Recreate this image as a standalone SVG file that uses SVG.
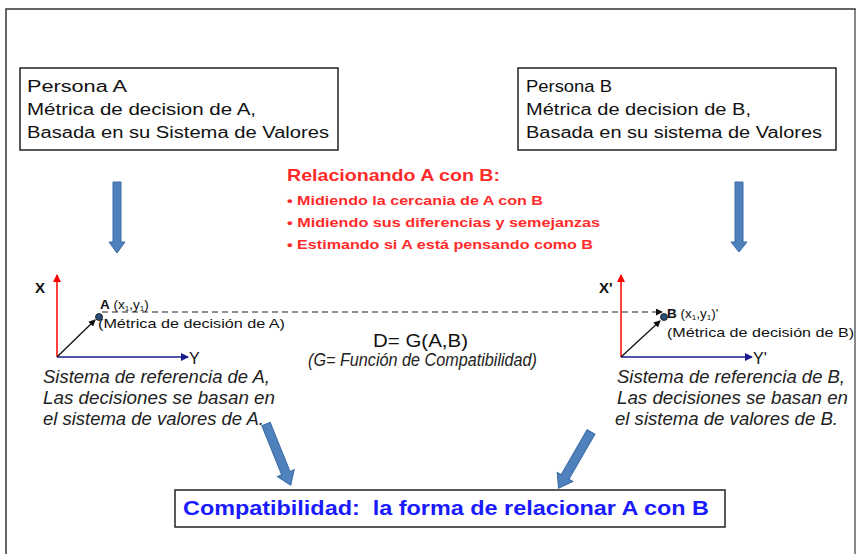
<svg xmlns="http://www.w3.org/2000/svg" width="857" height="554" viewBox="0 0 857 554">
<defs>
<style>
.box{fill:#fff;stroke:#222;stroke-width:1.5}
.t{font-family:"Liberation Sans",Arial,sans-serif;fill:#111}
.blk{font-size:16px}
.red{font-family:"Liberation Sans",Arial,sans-serif;font-weight:bold;fill:#ff2a2a}
.it{font-family:"Liberation Sans",Arial,sans-serif;font-style:italic;font-size:17.5px;fill:#222}
.bigarrow{fill:#4f81bd;stroke:#3a6aa5;stroke-width:1}
.xax{stroke:#ff0000;stroke-width:1.5;fill:none}
.yax{stroke:#1a1a8c;stroke-width:1.5;fill:none}
.vec{stroke:#111;stroke-width:1.3;fill:none}
</style>
<marker id="mr" markerWidth="8" markerHeight="8" refX="7" refY="4" orient="auto" markerUnits="userSpaceOnUse"><path d="M0,0 L8,4 L0,8 z" fill="#ff0000"/></marker>
<marker id="mb" markerWidth="8" markerHeight="8" refX="7" refY="4" orient="auto" markerUnits="userSpaceOnUse"><path d="M0,0 L8,4 L0,8 z" fill="#1a1a8c"/></marker>
<marker id="mk" markerWidth="7" markerHeight="7" refX="6" refY="3.5" orient="auto" markerUnits="userSpaceOnUse"><path d="M0,0 L7,3.5 L0,7 z" fill="#111"/></marker>
</defs>
<rect x="0" y="0" width="857" height="554" fill="#fff"/>
<path d="M6,560 L6,9 L855,9 L855,560" fill="none" stroke="#333" stroke-width="1.5"/>
<line x1="855" y1="10" x2="855" y2="560" stroke="#888" stroke-width="2"/>

<g id="personaA">
<rect class="box" x="20" y="68" width="318" height="82"/>
<text class="t blk" x="27" y="92" textLength="100" lengthAdjust="spacingAndGlyphs">Persona A</text>
<text class="t blk" x="27" y="115" textLength="229" lengthAdjust="spacingAndGlyphs">Métrica de decision de A,</text>
<text class="t blk" x="27" y="138" textLength="302" lengthAdjust="spacingAndGlyphs">Basada en su Sistema de Valores</text>
</g>

<g id="personaB">
<rect class="box" x="518" y="68" width="318" height="82"/>
<text class="t blk" x="526" y="92" textLength="86" lengthAdjust="spacingAndGlyphs">Persona B</text>
<text class="t blk" x="526" y="115" textLength="225" lengthAdjust="spacingAndGlyphs">Métrica de decision de B,</text>
<text class="t blk" x="526" y="138" textLength="296" lengthAdjust="spacingAndGlyphs">Basada en su sistema de Valores</text>
</g>

<g id="relacionando">
<text class="red" x="287" y="181" font-size="17" textLength="213" lengthAdjust="spacingAndGlyphs">Relacionando A con B:</text>
<text class="red" x="287" y="205" font-size="13" textLength="256" lengthAdjust="spacingAndGlyphs">• Midiendo la cercania de A con B</text>
<text class="red" x="287" y="227" font-size="13" textLength="313" lengthAdjust="spacingAndGlyphs">• Midiendo sus diferencias y semejanzas</text>
<text class="red" x="287" y="249" font-size="13" textLength="306" lengthAdjust="spacingAndGlyphs">• Estimando si A está pensando como B</text>
</g>

<g id="sistemaA">
<line class="xax" x1="57" y1="357" x2="57" y2="275" marker-end="url(#mr)"/>
<line class="yax" x1="57" y1="357" x2="188" y2="357" marker-end="url(#mb)"/>
<line class="vec" x1="57" y1="357" x2="95" y2="320" marker-end="url(#mk)"/>
<circle cx="99" cy="317" r="3.5" fill="#2a4d7a" stroke="#111" stroke-width="0.8"/>
<text class="t" x="35" y="293" font-size="15" font-weight="bold" fill="#333">X</text>
<text class="t" x="189" y="364" font-size="16" fill="#1a1a8c">Y</text>
<text class="t" x="100" y="309" font-size="13.5" fill="#333"><tspan font-weight="bold">A</tspan> (x<tspan font-size="8" dy="2">1</tspan><tspan dy="-2">,y</tspan><tspan font-size="8" dy="2">1</tspan><tspan dy="-2">)</tspan></text>
<text class="t" x="98" y="328" font-size="13.5" fill="#333" textLength="187" lengthAdjust="spacingAndGlyphs">(Métrica de decisión de A)</text>
<text class="it" x="43" y="383" textLength="227" lengthAdjust="spacingAndGlyphs">Sistema de referencia de A,</text>
<text class="it" x="43" y="404" textLength="232" lengthAdjust="spacingAndGlyphs">Las decisiones se basan en</text>
<text class="it" x="43" y="425" textLength="221" lengthAdjust="spacingAndGlyphs">el sistema de valores de A.</text>
</g>

<g id="sistemaB">
<line class="xax" x1="621" y1="357" x2="621" y2="275" marker-end="url(#mr)"/>
<line class="yax" x1="621" y1="357" x2="752" y2="357" marker-end="url(#mb)"/>
<line class="vec" x1="621" y1="357" x2="660" y2="321" marker-end="url(#mk)"/>
<circle cx="664" cy="317" r="3.5" fill="#2a4d7a" stroke="#111" stroke-width="0.8"/>
<text class="t" x="599" y="293" font-size="15" font-weight="bold" fill="#333">X'</text>
<text class="t" x="753" y="364" font-size="16" fill="#1a1a8c">Y'</text>
<text class="t" x="667" y="318" font-size="13.5" fill="#333"><tspan font-weight="bold">B</tspan> (x<tspan font-size="8" dy="2">1</tspan><tspan dy="-2">,y</tspan><tspan font-size="8" dy="2">1</tspan><tspan dy="-2">)'</tspan></text>
<text class="t" x="667" y="337" font-size="13.5" fill="#333" textLength="187" lengthAdjust="spacingAndGlyphs">(Métrica de decisión de B)</text>
<text class="it" x="617" y="383" textLength="228" lengthAdjust="spacingAndGlyphs">Sistema de referencia de B,</text>
<text class="it" x="617" y="404" textLength="231" lengthAdjust="spacingAndGlyphs">Las decisiones se basan en</text>
<text class="it" x="615" y="425" textLength="223" lengthAdjust="spacingAndGlyphs">el sistema de valores de B.</text>
</g>

<g id="funcion">
<text class="t" x="373" y="347" font-size="19" textLength="95" lengthAdjust="spacingAndGlyphs">D= G(A,B)</text>
<text class="it" x="308" y="366" font-size="11" textLength="229" lengthAdjust="spacingAndGlyphs">(G= Función de Compatibilidad)</text>
</g>

<g id="compatibilidad">
<rect class="box" x="175" y="490" width="550" height="37"/>
<text x="183" y="515" font-family="'Liberation Sans',Arial,sans-serif" font-weight="bold" font-size="20" fill="#1a1aff" xml:space="preserve" textLength="526" lengthAdjust="spacingAndGlyphs">Compatibilidad:  la forma de relacionar A con B</text>
</g>

<g id="connectors">
<line x1="102" y1="312" x2="662" y2="312" stroke="#222" stroke-width="1.2" stroke-dasharray="6,4" marker-end="url(#mk)"/>
<path class="bigarrow" d="M113,182 L121,182 L121,242 L125,242 L117,253 L109,242 L113,242 Z"/>
<path class="bigarrow" d="M735,182 L743,182 L743,242 L747,242 L739,252 L731,242 L735,242 Z"/>
<path class="bigarrow" transform="translate(266,424) rotate(-22)" d="M-4.5,0 L4.5,0 L4.5,53 L9,53 L0,66 L-9,53 L-4.5,53 Z"/>
<path class="bigarrow" transform="translate(591,432) rotate(30)" d="M-4.5,0 L4.5,0 L4.5,52 L9,52 L0,65 L-9,52 L-4.5,52 Z"/>
</g>
</svg>
